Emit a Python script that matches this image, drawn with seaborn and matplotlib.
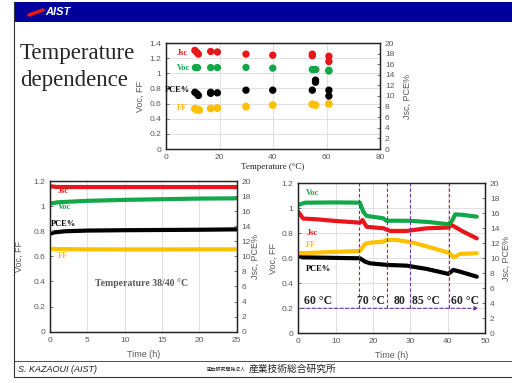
import numpy as np
import pandas as pd
import matplotlib
matplotlib.use("Agg")
import matplotlib.pyplot as plt
import seaborn as sns
from matplotlib.patches import Rectangle
from matplotlib.lines import Line2D

# === Data: temperature dependence (top chart) ===
t_jsc = [10.8, 11.6, 12.1, 16.7, 19.2, 29.9, 39.9, 54.7, 54.7, 60.9, 60.9]
jsc_top = [18.6, 18.2, 17.9, 18.4, 18.3, 17.9, 17.7, 17.9, 17.6, 17.5, 16.5]
t_voc = [11.0, 11.8, 16.7, 19.2, 29.9, 39.9, 54.7, 55.3, 56.0, 60.9, 60.9]
voc_top = [1.075, 1.075, 1.075, 1.075, 1.077, 1.068, 1.05, 1.05, 1.05, 1.04, 1.03]
t_pce = [10.8, 11.6, 12.1, 16.7, 16.7, 19.2, 29.9, 39.9, 54.7, 55.9, 55.9, 60.9, 60.9]
pce_top = [10.7, 10.4, 10.1, 10.7, 10.5, 10.6, 11.1, 11.1, 11.1, 13.0, 12.6, 11.1, 10.0]
t_ff = [10.8, 11.6, 12.4, 16.7, 19.2, 29.9, 39.9, 54.7, 55.9, 60.9]
ff_top = [0.53, 0.52, 0.515, 0.535, 0.54, 0.56, 0.58, 0.59, 0.58, 0.595]

# === Data: stability at 38/40 C (bottom left) ===
t_bl_jsc = [0, 1, 5, 10, 15, 20, 25]
jsc_bl = [19.3, 19.2, 19.2, 19.2, 19.2, 19.2, 19.2]
t_bl_voc = [0, 1, 2.5, 5, 10, 15, 20, 25]
voc_bl = [1.02, 1.03, 1.035, 1.042, 1.05, 1.055, 1.06, 1.062]
t_bl_pce = [0, 0.5, 2, 5, 10, 15, 20, 25]
pce_bl = [13.0, 13.17, 13.33, 13.42, 13.47, 13.5, 13.53, 13.58]
t_bl_ff = [0, 1, 5, 10, 15, 20, 25]
ff_bl = [0.66, 0.658, 0.656, 0.655, 0.655, 0.656, 0.656]

# === Data: temperature steps (bottom right) ===
t_br_voc = [0, 1.8, 10, 16.5, 17.4, 18.3, 22.8, 23.5, 29.9, 35, 40.2, 41.2, 42, 44.2, 47.8]
voc_br = [1.027, 1.045, 1.047, 1.045, 0.973, 0.939, 0.92, 0.901, 0.90, 0.89, 0.872, 0.90, 0.952, 0.947, 0.933]
t_br_jsc = [0, 1.3, 5, 9.4, 16.5, 17.2, 18.3, 22.8, 24.6, 29, 34.4, 40.2, 41, 44.2, 47.8]
jsc_br = [16.2, 15.3, 15.2, 15.0, 14.75, 15.1, 14.2, 14.0, 13.65, 13.65, 14.0, 14.1, 14.45, 13.55, 12.65]
t_br_ff = [0, 16.5, 17.9, 19.2, 22.8, 23.7, 26.3, 30.8, 35.3, 40.2, 41.7, 43.3, 47.8]
ff_br = [0.64, 0.659, 0.715, 0.725, 0.733, 0.747, 0.747, 0.725, 0.688, 0.645, 0.608, 0.635, 0.64]
t_br_pce = [0, 0.9, 16.5, 17.9, 19.2, 23.7, 29, 34.4, 40.2, 41.5, 43.3, 47.8]
pce_br = [10.45, 10.13, 10.0, 9.55, 9.33, 9.12, 9.02, 8.58, 7.92, 8.45, 8.22, 7.55]

step_times = [16.3, 23.7, 30.0, 40.4]
step_labels = ["60 °C", "70 °C", "80", "85 °C", "60 °C"]
step_label_x = [5.4, 19.6, 27.2, 34.2, 44.6]

RED = "#E8161B"
GREEN = "#12A84A"
BLACK = "#000000"
GOLD = "#FFC000"
PURPLE = "#7030A0"
GREY = "#595959"

sns.set_style("white")
plt.rcParams["font.family"] = ["Liberation Sans", "DejaVu Sans"]

fig = plt.figure(figsize=(5.12, 3.83), dpi=100)
W, H = 512.0, 383.0


def axes_px(left, top, right, bottom):
    return fig.add_axes([left / W, 1 - bottom / H, (right - left) / W, (bottom - top) / H])


def style_axes(ax, ax2, xlim, xticks, ylim_left, yticks_left, grid_x=True, grid_y=True):
    ax.set_xlim(*xlim)
    ax.set_xticks(xticks)
    ax.set_ylim(*ylim_left)
    ax.set_yticks(yticks_left)
    ax.set_yticklabels([("%g" % v) for v in yticks_left])
    ax2.set_ylim(0, 20)
    ax2.set_yticks(range(0, 21, 2))
    for a in (ax, ax2):
        a.tick_params(labelsize=6, colors=GREY, direction="in", length=2.5, width=0.6)
        for s in a.spines.values():
            s.set_color("#222222")
            s.set_linewidth(0.9)
    # grid goes on the lower (twin) axes so every mark sits above it
    k = 20.0 / ylim_left[1]
    if grid_x:
        for x in xticks[1:-1]:
            ax2.axvline(x, color="#dcdcdc", lw=0.6, zorder=0)
    if grid_y:
        for y in yticks_left[1:-1]:
            ax2.axhline(y * k, color="#dcdcdc", lw=0.6, zorder=0)
    ax.set_zorder(ax2.get_zorder() + 1)
    ax.patch.set_visible(False)


# === Slide frame ===
fig.add_artist(Rectangle((14 / W, 1 - 22 / H), 1 - 14 / W, 20 / H, transform=fig.transFigure,
                         facecolor="#00009A", edgecolor="none"))
fig.text(45 / W, 1 - 12 / H, "AIST", color="white", fontsize=8, fontweight="bold",
         style="italic", va="center", ha="left")
fig.add_artist(Line2D([29 / W, 43 / W], [1 - 15 / H, 1 - 10 / H], transform=fig.transFigure,
                      color="#E8161B", lw=2.5))
fig.add_artist(Line2D([14 / W, 14 / W], [1 - 377 / H, 1 - 2 / H], transform=fig.transFigure,
                      color="#333333", lw=0.8))
fig.add_artist(Line2D([14 / W, 1], [1 - 377 / H, 1 - 377 / H], transform=fig.transFigure,
                      color="#333333", lw=0.8))
fig.add_artist(Line2D([14 / W, 1], [1 - 361 / H, 1 - 361 / H], transform=fig.transFigure,
                      color="#333333", lw=0.6))
fig.text(18 / W, 1 - 369 / H, "S. KAZAOUI (AIST)", fontsize=6.5, style="italic",
         color="#222222", va="center", ha="left")
fig.text(207 / W, 1 - 369 / H, "国立研究開発法人", fontsize=3.5, color="#222222",
         va="center", ha="left", family=["Noto Sans CJK JP", "DejaVu Sans"])
fig.text(249 / W, 1 - 369 / H, "産業技術総合研究所", fontsize=7, color="#222222",
         va="center", ha="left", family=["Noto Sans CJK JP", "DejaVu Sans"])
fig.text(20 / W, 1 - 67 / H, "Temperature\ndependence", fontsize=16.5, family="Liberation Serif",
         va="center", ha="left", linespacing=1.35)

# === Top chart: temperature dependence ===
ax_t = axes_px(166, 43, 380, 149)
ax_t2 = ax_t.twinx()
sns.scatterplot(x=t_jsc, y=jsc_top, ax=ax_t2, color=RED, s=28, edgecolor="none")
sns.scatterplot(x=t_pce, y=pce_top, ax=ax_t2, color=BLACK, s=28, edgecolor="none")
sns.scatterplot(x=t_voc, y=voc_top, ax=ax_t, color=GREEN, s=28, edgecolor="none")
sns.scatterplot(x=t_ff, y=ff_top, ax=ax_t, color=GOLD, s=32, edgecolor="none")
style_axes(ax_t, ax_t2, (0, 80), [0, 20, 40, 60, 80], (0, 1.4), np.round(np.arange(0, 1.41, 0.2), 1))
ax_t.set_xticks(range(0, 81, 5), minor=True)
ax_t.tick_params(which="minor", direction="in", length=2, width=0.5)
ax_t.set_xlabel("Temperature (°C)", fontsize=6.5, family="Liberation Serif", color="#222222")
ax_t.xaxis.set_label_coords(0.5, -0.13)
ax_t.set_ylabel("Voc, FF", fontsize=6.5, color=GREY)
ax_t.yaxis.set_label_coords(-0.1, 0.5)
ax_t2.set_ylabel("Jsc, PCE%", fontsize=6.5, color=GREY)
ax_t2.yaxis.set_label_coords(1.107, 0.5)
lab = dict(fontsize=6, fontweight="bold", family="Liberation Serif", va="center", ha="left")
ax_t.text(4.0, 1.265, "Jsc", color=RED, **lab)
ax_t.text(4.0, 1.065, "Voc", color=GREEN, **lab)
ax_t.text(-0.3, 0.78, "PCE%", color=BLACK, **lab)
ax_t.text(4.0, 0.54, "FF", color=GOLD, **lab)

# === Bottom left: 38/40 C ===
ax_l = axes_px(50, 181, 236.7, 331.7)
ax_l2 = ax_l.twinx()
sns.lineplot(x=t_bl_jsc, y=jsc_bl, ax=ax_l2, color=RED, lw=3)
sns.lineplot(x=t_bl_pce, y=pce_bl, ax=ax_l2, color=BLACK, lw=3)
sns.lineplot(x=t_bl_voc, y=voc_bl, ax=ax_l, color=GREEN, lw=3)
sns.lineplot(x=t_bl_ff, y=ff_bl, ax=ax_l, color=GOLD, lw=3)
style_axes(ax_l, ax_l2, (0, 25), [0, 5, 10, 15, 20, 25], (0, 1.2),
           np.round(np.arange(0, 1.21, 0.2), 1), grid_y=False)
ax_l.set_xlabel("Time (h)", fontsize=6.5, color=GREY)
ax_l.xaxis.set_label_coords(0.5, -0.12)
ax_l.set_ylabel("Voc, FF", fontsize=6.5, color=GREY)
ax_l.yaxis.set_label_coords(-0.139, 0.5)
ax_l2.set_ylabel("Jsc, PCE%", fontsize=6.5, color=GREY)
ax_l2.yaxis.set_label_coords(1.077, 0.5)
ax_l.text(1.0, 1.12, "Jsc", color=RED, **lab)
ax_l.text(1.0, 0.995, "Voc", color=GREEN, **lab)
ax_l.text(0.1, 0.855, "PCE%", color=BLACK, **lab)
ax_l.text(1.0, 0.605, "FF", color=GOLD, **lab)
ax_l.text(12.3, 0.39, "Temperature 38/40 °C", color=GREY, fontsize=7, fontweight="bold",
          family="Liberation Serif", ha="center", va="center")

# === Bottom right: temperature steps ===
ax_r = axes_px(298.3, 183.3, 485, 333.3)
ax_r2 = ax_r.twinx()
sns.lineplot(x=t_br_jsc, y=jsc_br, ax=ax_r2, color=RED, lw=3)
sns.lineplot(x=t_br_pce, y=pce_br, ax=ax_r2, color=BLACK, lw=3)
sns.lineplot(x=t_br_voc, y=voc_br, ax=ax_r, color=GREEN, lw=3)
sns.lineplot(x=t_br_ff, y=ff_br, ax=ax_r, color=GOLD, lw=3)
style_axes(ax_r, ax_r2, (0, 50), [0, 10, 20, 30, 40, 50], (0, 1.2),
           np.round(np.arange(0, 1.21, 0.2), 1))
for x in step_times:
    ax_r.plot([x, x], [0.2, 1.2], color=PURPLE, lw=0.8, ls=(0, (3, 2)))
ax_r.annotate("", xy=(49.0, 0.2), xytext=(0, 0.2),
              arrowprops=dict(arrowstyle="-|>", color=PURPLE, lw=0.8, ls=(0, (3, 2)),
                              mutation_scale=6))
for x, s in zip(step_label_x, step_labels):
    ax_r.text(x, 0.262, s, fontsize=8.5, fontweight="bold", family="Liberation Serif",
              ha="center", va="center")
ax_r.set_xlabel("Time (h)", fontsize=6.5, color=GREY)
ax_r.xaxis.set_label_coords(0.5, -0.12)
ax_r.set_ylabel("Voc, FF", fontsize=6.5, color=GREY)
ax_r.yaxis.set_label_coords(-0.109, 0.5)
ax_r2.set_ylabel("Jsc, PCE%", fontsize=6.5, color=GREY)
ax_r2.yaxis.set_label_coords(1.092, 0.5)
ax_r.text(2.0, 1.125, "Voc", color=GREEN, **lab)
ax_r.text(2.3, 0.805, "Jsc", color=RED, **lab)
ax_r.text(2.0, 0.71, "FF", color=GOLD, **lab)
ax_r.text(2.0, 0.515, "PCE%", color=BLACK, **lab)

for a in (ax_t2, ax_l2, ax_r2):
    a.set_xlabel("")

fig.savefig("out.png", dpi=100)
